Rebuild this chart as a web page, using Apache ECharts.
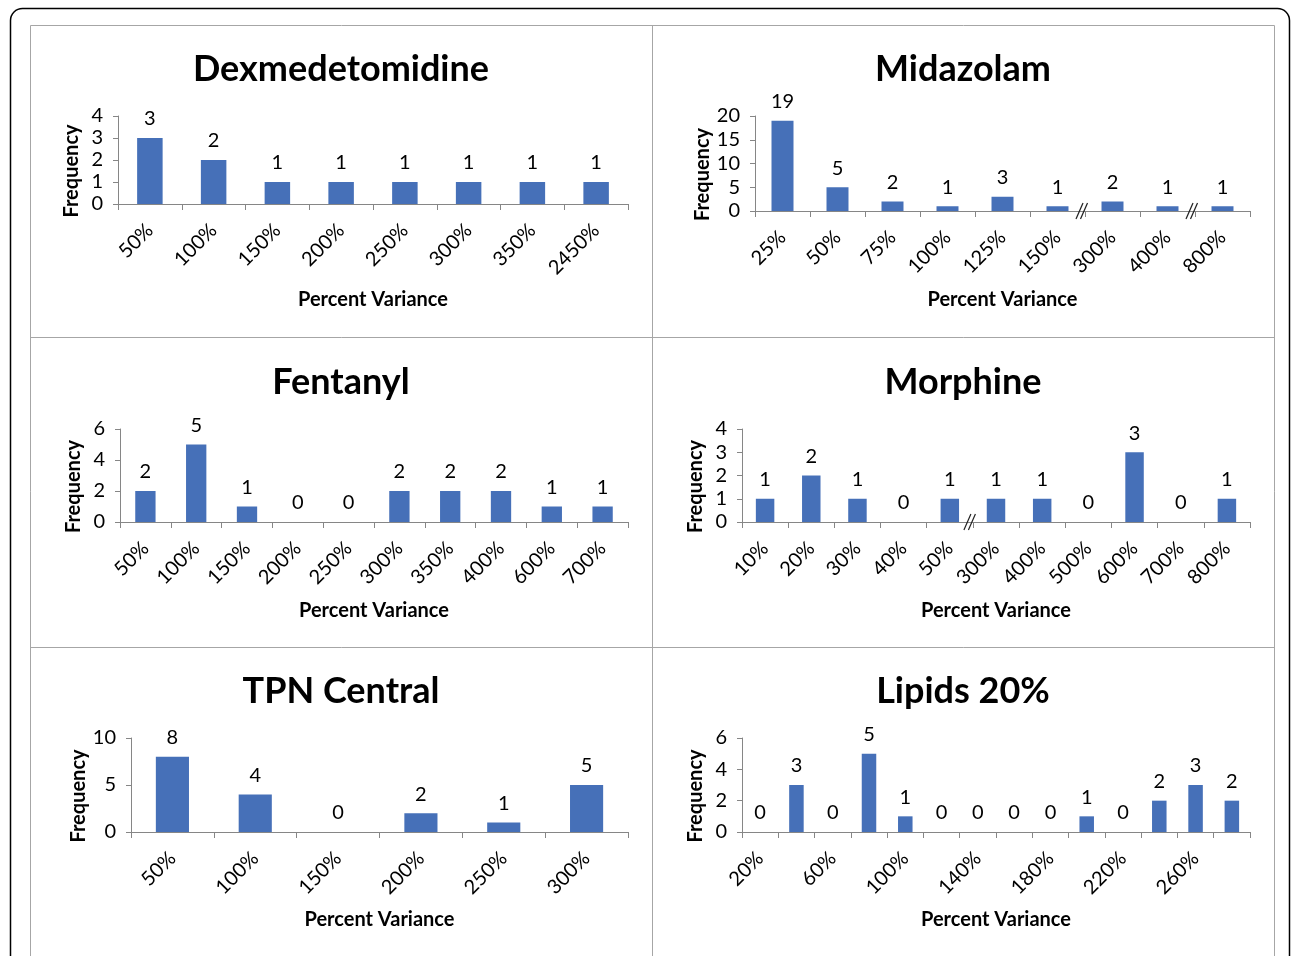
<!DOCTYPE html>
<html><head><meta charset="utf-8">
<script src="https://cdn.jsdelivr.net/npm/echarts/dist/echarts.min.js"></script>
<style>html,body{margin:0;padding:0;background:#fff}#c{width:1292px;height:956px}</style>
</head><body><div id="c"></div>
<script>
const panelTitles = ['Dexmedetomidine','Midazolam','Fentanyl','Morphine','TPN Central','Lipids 20%'];
const dexCats = ['50%','100%','150%','200%','250%','300%','350%','2450%'];
const dexVals = [3,2,1,1,1,1,1,1];
const midCats = ['25%','50%','75%','100%','125%','150%','300%','400%','800%'];
const midVals = [19,5,2,1,3,1,2,1,1];
const fenCats = ['50%','100%','150%','200%','250%','300%','350%','400%','600%','700%'];
const fenVals = [2,5,1,0,0,2,2,2,1,1];
const morCats = ['10%','20%','30%','40%','50%','300%','400%','500%','600%','700%','800%'];
const morVals = [1,2,1,0,1,1,1,0,3,0,1];
const tpnCats = ['50%','100%','150%','200%','250%','300%'];
const tpnVals = [8,4,0,2,1,5];
const lipCats = ['20%','40%','60%','80%','100%','120%','140%','160%','180%','200%','220%','240%','260%','280%'];
const lipVals = [0,3,0,5,1,0,0,0,0,1,0,2,3,2];
const yMax = [4,20,6,4,10,6];
const yStep = [1,5,2,1,5,2];
const xLabelEvery = [0,0,0,0,0,1];
const breaksAfter = [[],[5,7],[],[4],[],[]];
const yName = 'Frequency';
const xName = 'Percent Variance';

const cats = [dexCats, midCats, fenCats, morCats, tpnCats, lipCats];
const vals = [dexVals, midVals, fenVals, morVals, tpnVals, lipVals];

const FONT = 'Lato';
const grids = [
  {left:118, top:116, width:510, height:88},
  {left:755, top:116, width:495, height:95},
  {left:120, top:429, width:508, height:93},
  {left:742, top:429, width:508, height:93},
  {left:131, top:738, width:497, height:94},
  {left:742, top:738, width:508, height:94}
];
const titlePos = [[336,46],[958,46],[336,359],[958,359],[336,668],[958,668]];
const xNameGap = [86,79,79,79,78,78];

const baseGraphic = [
  {type:'rect', id:'outer', shape:{x:10.5,y:8.5,width:1279,height:1000,r:12}, style:{stroke:'#000',lineWidth:1.5,fill:null}, z:-10},
  {type:'rect', id:'inner', shape:{x:30.5,y:25.5,width:1244,height:1000}, style:{stroke:'#a6a6a6',lineWidth:1,fill:null}, z:-10},
  {type:'line', id:'v1', shape:{x1:652.5,y1:25,x2:652.5,y2:960}, style:{stroke:'#a6a6a6',lineWidth:1}, z:-10},
  {type:'line', id:'h1', shape:{x1:30,y1:337.5,x2:1275,y2:337.5}, style:{stroke:'#a6a6a6',lineWidth:1}, z:-10},
  {type:'line', id:'h2', shape:{x1:30,y1:647.5,x2:1275,y2:647.5}, style:{stroke:'#a6a6a6',lineWidth:1}, z:-10}
];

const option = {
  animation:false,
  textStyle:{fontFamily:FONT},
  title: panelTitles.map((t,i)=>({text:t,left:titlePos[i][0],top:titlePos[i][1],textAlign:'center',
    textStyle:{fontFamily:FONT,fontWeight:'bold',fontSize:36,color:'#000'}})),
  grid: grids,
  xAxis: cats.map((c,i)=>({type:'category',gridIndex:i,data:c,
    axisLine:{lineStyle:{color:'#868686',width:1}},
    axisTick:{show:true,interval:0,length:6,lineStyle:{color:'#868686'}},
    axisLabel:{interval:xLabelEvery[i],rotate:45,margin:23,color:'#000',fontSize:20,fontFamily:FONT},
    name:xName,nameLocation:'middle',nameGap:xNameGap[i],
    nameTextStyle:{fontWeight:'bold',fontSize:20,color:'#000',fontFamily:FONT}})),
  yAxis: cats.map((c,i)=>({type:'value',gridIndex:i,min:0,max:yMax[i],interval:yStep[i],
    splitLine:{show:false},
    axisLine:{show:true,lineStyle:{color:'#868686',width:1}},
    axisTick:{show:true,length:5,lineStyle:{color:'#868686'}},
    axisLabel:{margin:15,color:'#000',fontSize:20,fontFamily:FONT},
    name:yName,nameLocation:'middle',nameRotate:90,nameGap:36,
    nameTextStyle:{fontWeight:'bold',fontSize:20,color:'#000',fontFamily:FONT,padding:[0,22,0,0]}})),
  series: vals.map((v,i)=>({type:'bar',xAxisIndex:i,yAxisIndex:i,data:v,barWidth:'40%',
    itemStyle:{color:'#4670b8'},
    label:{show:true,position:'top',distance:9,color:'#000',fontSize:20,fontFamily:FONT}})),
  graphic: baseGraphic
};

const chart = echarts.init(document.getElementById('c'),null,{renderer:'canvas'});
chart.setOption(option);

const extra = [];
breaksAfter.forEach((list,i)=>{
  list.forEach(k=>{
    const a = chart.convertToPixel({xAxisIndex:i}, k);
    const b = chart.convertToPixel({xAxisIndex:i}, k+1);
    const x = (a+b)/2 - 3;
    const y = chart.convertToPixel({yAxisIndex:i}, 0);
    [-2.5,2].forEach((dx,j)=>{
      extra.push({type:'line', id:'brk'+i+'_'+k+'_'+j, shape:{x1:x+dx-3.5,y1:y+8,x2:x+dx+3.5,y2:y-8}, style:{stroke:'#222',lineWidth:1.2}, z:10});
    });
  });
});
chart.setOption({graphic: baseGraphic.concat(extra)});
</script>
</body></html>
